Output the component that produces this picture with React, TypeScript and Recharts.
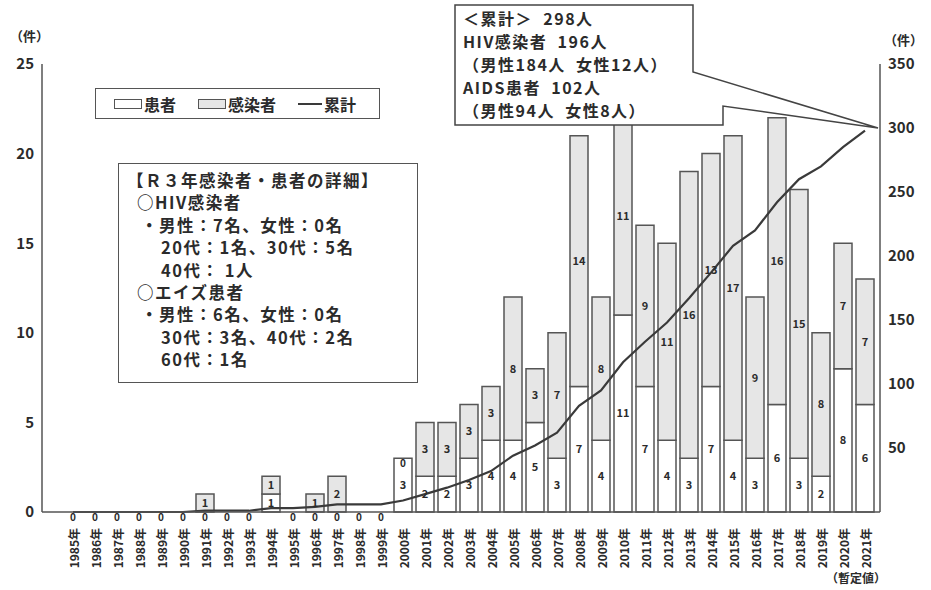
import React from 'react'
import {
  ComposedChart, Bar, Line, XAxis, YAxis, LabelList,
} from 'recharts'

const YEARS = [
  '1985年', '1986年', '1987年', '1988年', '1989年', '1990年', '1991年', '1992年', '1993年', '1994年',
  '1995年', '1996年', '1997年', '1998年', '1999年', '2000年', '2001年', '2002年', '2003年', '2004年',
  '2005年', '2006年', '2007年', '2008年', '2009年', '2010年', '2011年', '2012年', '2013年', '2014年',
  '2015年', '2016年', '2017年', '2018年', '2019年', '2020年', '2021年',
]
// 患者 (bottom segment)
const PATIENTS = [
  0, 0, 0, 0, 0, 0, 0, 0, 0, 1,
  0, 0, 0, 0, 0, 3, 2, 2, 3, 4,
  4, 5, 3, 7, 4, 11, 7, 4, 3, 7,
  4, 3, 6, 3, 2, 8, 6,
]
// 感染者 (top segment)
const INFECTED = [
  0, 0, 0, 0, 0, 0, 1, 0, 0, 1,
  0, 1, 2, 0, 0, 0, 3, 3, 3, 3,
  8, 3, 7, 14, 8, 11, 9, 11, 16, 13,
  17, 9, 16, 15, 8, 7, 7,
]
// 累計
const CUMULATIVE = [
  0, 0, 0, 0, 0, 0, 1, 1, 1, 3,
  3, 4, 6, 6, 6, 9, 14, 19, 25, 32,
  44, 52, 62, 83, 95, 117, 133, 148, 167, 187,
  208, 220, 242, 260, 270, 285, 298,
]
const LEFT_TICKS = [0, 5, 10, 15, 20, 25]
const RIGHT_TICKS = [50, 100, 150, 200, 250, 300, 350]

const SUMMARY = [
  '＜累計＞  298人',
  'HIV感染者  196人',
  '（男性184人  女性12人）',
  'AIDS患者  102人',
  '（男性94人  女性8人）',
]
const DETAILS = [
  { text: '【Ｒ３年感染者・患者の詳細】', indent: 0 },
  { text: '○HIV感染者', indent: 10 },
  { text: '・男性：7名、女性：0名', indent: 14 },
  { text: '20代：1名、30代：5名', indent: 34 },
  { text: '40代： 1人', indent: 34 },
  { text: '○エイズ患者', indent: 10 },
  { text: '・男性：6名、女性：0名', indent: 14 },
  { text: '30代：3名、40代：2名', indent: 34 },
  { text: '60代：1名', indent: 34 },
]

const data = YEARS.map((year, i) => ({
  year,
  patients: PATIENTS[i],
  infected: INFECTED[i],
  cumulative: CUMULATIVE[i],
}))

const FONT = '"Noto Sans CJK JP", "Noto Sans", sans-serif'
const INK = '#2b2b2b'
const EDGE = '#555'

const YearTick = ({ x, y, payload }: any) => (
  <text
    x={x}
    y={y + 8}
    transform={`rotate(-90, ${x}, ${y + 8})`}
    textAnchor="end"
    dominantBaseline="central"
    fontSize={12}
    fontWeight={700}
    fill={INK}
    fontFamily={FONT}
  >
    {payload.value}
  </text>
)

const labelStyle = { fontSize: 11, fontWeight: 700, fill: INK, fontFamily: FONT }

// labels for zero-height segments, which the bars do not draw themselves
const ZeroLabel = ({ x, y, value }: any) => {
  if (value == null || x == null || y == null) return null
  return (
    <text x={x} y={y + 4} textAnchor="middle" dominantBaseline="central" {...labelStyle} fontSize={10}>0</text>
  )
}

export default function App() {
  return (
    <div style={{ position: 'absolute', left: 0, top: 0, width: 931, height: 590, background: '#fff', fontFamily: FONT }}>
      <ComposedChart
        width={931}
        height={590}
        data={data}
        margin={{ top: 64, right: 0, left: 0, bottom: 18 }}
        barSize={18}
      >
        <XAxis
          dataKey="year"
          interval={0}
          height={60}
          padding={{ left: 20, right: 4 }}
          tick={<YearTick />}
          tickLine={false}
          axisLine={{ stroke: EDGE, strokeWidth: 1.5 }}
        />
        <XAxis
          xAxisId="top"
          dataKey="year"
          orientation="top"
          height={0}
          tick={false}
          tickLine={false}
          axisLine={{ stroke: EDGE, strokeWidth: 1.5 }}
        />
        <YAxis
          yAxisId="left"
          domain={[0, 25]}
          ticks={LEFT_TICKS}
          width={42}
          tickLine={false}
          axisLine={{ stroke: EDGE, strokeWidth: 1.5 }}
          tick={{ fontSize: 15, fontWeight: 700, fill: INK, fontFamily: FONT }}
        />
        <YAxis
          yAxisId="right"
          orientation="right"
          domain={[0, 350]}
          ticks={RIGHT_TICKS}
          width={51}
          tickLine={false}
          axisLine={{ stroke: EDGE, strokeWidth: 1.5 }}
          tick={{ fontSize: 15, fontWeight: 700, fill: INK, fontFamily: FONT }}
        />
        <Bar yAxisId="left" dataKey="patients" stackId="a" fill="#ffffff" stroke={EDGE} strokeWidth={1.5} isAnimationActive={false}>
          <LabelList dataKey="patients" position="center" style={labelStyle} />
        </Bar>
        <Bar yAxisId="left" dataKey="infected" stackId="a" fill="#e6e6e6" stroke={EDGE} strokeWidth={1.5} isAnimationActive={false}>
          <LabelList dataKey="infected" position="center" style={labelStyle} />
        </Bar>
        <Line
          yAxisId="left"
          dataKey={(d: any) => (d.patients === 0 ? 0 : null)}
          stroke="none"
          dot={false}
          activeDot={false}
          legendType="none"
          label={<ZeroLabel />}
          isAnimationActive={false}
        />
        <Line
          yAxisId="left"
          dataKey={(d: any) => (d.infected === 0 && d.patients > 0 ? d.patients : null)}
          stroke="none"
          dot={false}
          activeDot={false}
          legendType="none"
          label={<ZeroLabel />}
          isAnimationActive={false}
        />
        <Line
          yAxisId="right"
          dataKey="cumulative"
          type="linear"
          stroke="#3a3a3a"
          strokeWidth={2.2}
          dot={false}
          isAnimationActive={false}
        />
      </ComposedChart>

      {/* unit labels */}
      <div style={{ position: 'absolute', left: 10, top: 26, fontSize: 13, fontWeight: 700, color: INK }}>（件）</div>
      <div style={{ position: 'absolute', left: 884, top: 30, fontSize: 13, fontWeight: 700, color: INK }}>（件）</div>
      <div style={{ position: 'absolute', left: 826, top: 569, fontSize: 12, fontWeight: 700, color: INK }}>（暫定値）</div>

      {/* legend */}
      <div style={{
        position: 'absolute', left: 95, top: 88, width: 285, height: 31, border: `1.5px solid ${EDGE}`,
        background: '#fff', display: 'flex', alignItems: 'center', gap: 22, paddingLeft: 18,
        boxSizing: 'border-box', fontSize: 16, fontWeight: 700, color: INK,
      }}>
        <span style={{ display: 'flex', alignItems: 'center' }}>
          <span style={{ width: 26, height: 8, border: `1px solid ${EDGE}`, background: '#fff', marginRight: 2 }} />患者
        </span>
        <span style={{ display: 'flex', alignItems: 'center' }}>
          <span style={{ width: 26, height: 8, border: `1px solid ${EDGE}`, background: '#e6e6e6', marginRight: 2 }} />感染者
        </span>
        <span style={{ display: 'flex', alignItems: 'center' }}>
          <span style={{ width: 24, height: 2, background: '#3a3a3a', marginRight: 2 }} />累計
        </span>
      </div>

      {/* details box */}
      <div style={{
        position: 'absolute', left: 118, top: 163, width: 300, height: 220, border: `1.5px solid ${EDGE}`,
        background: '#fff', boxSizing: 'border-box', padding: '5px 0 0 8px',
        fontSize: 16.5, fontWeight: 700, color: INK, lineHeight: '22.4px', letterSpacing: 1.5,
      }}>
        {DETAILS.map((d, i) => (
          <div key={i} style={{ paddingLeft: d.indent, whiteSpace: 'nowrap' }}>{d.text}</div>
        ))}
      </div>

      {/* callout */}
      <svg width={931} height={590} style={{ position: 'absolute', left: 0, top: 0, pointerEvents: 'none' }}>
        <polygon
          points="455,5 693,5 693,72 878,128 723,106 723,125 455,125"
          fill="#fff"
          stroke="#444"
          strokeWidth={1.5}
        />
        {SUMMARY.map((s, i) => (
          <text key={i} x={463} y={25 + i * 23} fontSize={16} fontWeight={700} fill={INK} fontFamily={FONT}
            letterSpacing={1.5} style={{ whiteSpace: 'pre' }}>
            {s}
          </text>
        ))}
      </svg>
    </div>
  )
}
